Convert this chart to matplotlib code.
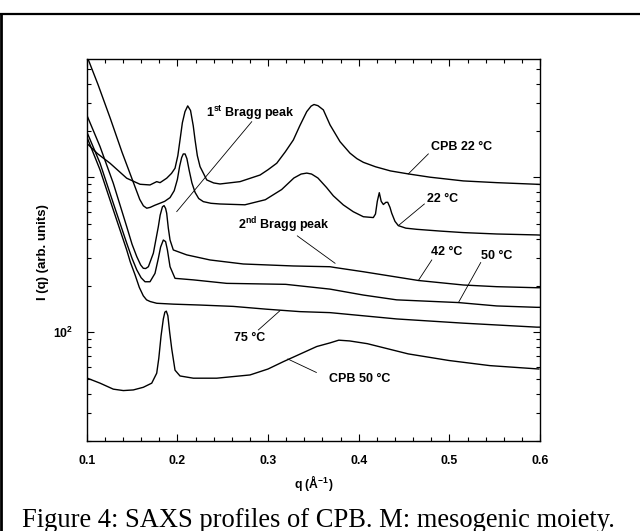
import matplotlib
matplotlib.use('Agg')
import matplotlib.pyplot as plt
from matplotlib.lines import Line2D
from matplotlib.ticker import MultipleLocator, FixedLocator, LogLocator, NullFormatter, FixedFormatter

# ---------------- data (q in 1/Angstrom, I in arb. units) ----------------
q_22 = [0.100, 0.1125, 0.126, 0.139, 0.153, 0.1585, 0.1625, 0.1662, 0.170, 0.175, 0.1809, 0.186,
        0.1919, 0.1965, 0.200, 0.2025, 0.2047, 0.2065, 0.2085, 0.2105, 0.213, 0.216, 0.2195, 0.2235,
        0.2286, 0.237, 0.247, 0.2745, 0.297, 0.315, 0.3285, 0.3365, 0.3427, 0.348, 0.355, 0.3645,
        0.372, 0.383, 0.394, 0.4051, 0.4161, 0.4185, 0.4205, 0.4227, 0.4248, 0.4272, 0.4300, 0.432,
        0.4345, 0.4364, 0.4400, 0.4437, 0.452, 0.464, 0.490, 0.5154, 0.5522, 0.5964, 0.600]
I_22 = [6100, 3960, 2400, 1449, 877, 720, 655, 632, 640, 660, 681, 700,
        740, 820, 969, 1180, 1340, 1415, 1415, 1320, 1110, 922, 800, 730,
        697, 680, 673, 665, 717, 834, 990, 1050, 1065, 1050, 990, 860,
        760, 664, 600, 557, 550, 580, 700, 796, 700, 668, 690, 690,
        640, 587, 520, 488, 470, 462, 450, 440, 431, 425, 424]

q_cpb22 = [0.100, 0.112, 0.1257, 0.1441, 0.1588, 0.1698, 0.1772, 0.1809, 0.1882, 0.1935, 0.1974,
           0.2005, 0.2029, 0.2055, 0.2084, 0.2114, 0.2145, 0.2175, 0.2195, 0.2220, 0.225, 0.2324,
           0.240, 0.247, 0.2691, 0.2912, 0.300, 0.3096, 0.319, 0.3279, 0.335, 0.3427, 0.3475,
           0.3507, 0.355, 0.361, 0.3684, 0.3794, 0.3904, 0.398, 0.4051, 0.4185, 0.435, 0.4547,
           0.4787, 0.5154, 0.5522, 0.5964, 0.600]
I_cpb22 = [1660, 1420, 1233, 987, 902, 893, 938, 924, 987, 1060, 1145,
           1380, 1742, 2250, 2655, 2890, 2700, 2150, 1742, 1380, 1172, 962,
           920, 906, 938, 1035, 1120, 1233, 1460, 1742, 2150, 2655, 2880,
           2950, 2900, 2723, 2178, 1698, 1432, 1320, 1250, 1170, 1100, 1052,
           1002, 948, 924, 902, 900]

q_42 = [0.100, 0.1147, 0.1293, 0.1441, 0.150, 0.1552, 0.1595, 0.1624, 0.165, 0.168, 0.1735, 0.179,
        0.1810, 0.1835, 0.1853, 0.1870, 0.1882, 0.190, 0.1919, 0.1955, 0.2103, 0.236, 0.2727,
        0.3279, 0.3684, 0.3735, 0.4051, 0.4658, 0.5154, 0.5522, 0.5964, 0.600]
I_42 = [2530, 1578, 916, 481, 370, 308, 272, 259, 258, 265, 324, 481,
        570, 645, 657, 630, 587, 470, 394, 340, 316, 293, 276,
        268, 265, 262, 246, 216, 202, 197, 194, 194]

q_50 = [0.100, 0.1147, 0.1293, 0.1441, 0.150, 0.1552, 0.160, 0.1643, 0.1698, 0.1753, 0.1790, 0.1815,
        0.1845, 0.1870, 0.1890, 0.1919, 0.1974, 0.2176, 0.2544, 0.3195, 0.3684, 0.4051, 0.4419,
        0.510, 0.5522, 0.5964, 0.600]
I_50 = [1972, 1233, 681, 376, 300, 253, 225, 212, 212, 240, 300, 355,
        394, 385, 340, 265, 223, 218, 207, 204, 190, 174, 162,
        155.6, 148, 145, 145]

q_75 = [0.100, 0.1147, 0.1293, 0.1441, 0.148, 0.1533, 0.158, 0.1624, 0.166, 0.170, 0.1772, 0.1955,
        0.225, 0.2617, 0.2985, 0.3353, 0.3684, 0.4419, 0.5154, 0.5964, 0.600]
I_75 = [1832, 1117, 617, 340, 285, 235, 195, 172, 162, 158, 154, 152,
        150, 147, 141, 136, 134, 122, 114.6, 108, 108]

q_cpb50 = [0.1007, 0.1147, 0.1293, 0.1404, 0.1514, 0.1624, 0.1717, 0.1772, 0.1795, 0.1820, 0.1845,
           0.1862, 0.1878, 0.1895, 0.1915, 0.1938, 0.1974, 0.2029, 0.2176, 0.2434, 0.2801, 0.300,
           0.3169, 0.3537, 0.3684, 0.378, 0.390, 0.4095, 0.4546, 0.4996, 0.5446, 0.5987]
I_cpb50 = [50.6, 47, 43, 42.1, 42.5, 44.2, 47, 54.5, 68, 95, 122,
           135, 137, 128, 100, 78, 57, 52.3, 50.6, 50.6, 53.1, 58,
           64.7, 81, 85.5, 89, 88, 84.5, 72.6, 65.8, 61, 58]

x_ticks = [0.1, 0.2, 0.3, 0.4, 0.5, 0.6]
x_tick_labels = ['0.1', '0.2', '0.3', '0.4', '0.5', '0.6']
y_major = [100, 1000]
y_major_labels = ['10$^{2}$', '']

# annotation texts and pointer lines (data coords)
labels = ['1$^{st}$ Bragg peak', '2$^{nd}$ Bragg peak', 'CPB 22 °C', '22 °C', '42 °C', '50 °C', '75 °C', 'CPB 50 °C']
label_q = [0.281, 0.3174, 0.5136, 0.4925, 0.4967, 0.5518, 0.2801, 0.4006]
label_I = [2612, 493, 1578, 722, 332, 313, 91.6, 49.8]
ptr_q = [(0.282, 0.1993), (0.3323, 0.3739), (0.4768, 0.4547), (0.4724, 0.4437),
         (0.4806, 0.4658), (0.5346, 0.510), (0.2893, 0.3132), (0.3533, 0.3218)]
ptr_I = [(2285, 601), (419, 279), (1416, 1052), (673, 488),
         (293, 216), (282, 155.6), (103.6, 138), (55.1, 67.3)]

caption = 'Figure 4: SAXS profiles of CPB. M: mesogenic moiety.'

# ---------------- style ----------------
plt.rcParams['font.family'] = ['Liberation Sans', 'DejaVu Sans']
plt.rcParams['font.weight'] = 'bold'
plt.rcParams['mathtext.fontset'] = 'custom'
plt.rcParams['mathtext.rm'] = 'Liberation Sans:bold'
plt.rcParams['mathtext.it'] = 'Liberation Sans:bold'
plt.rcParams['mathtext.bf'] = 'Liberation Sans:bold'

fig = plt.figure(figsize=(6.4, 5.31), dpi=100)
ax = fig.add_axes([0.1355, 0.1701, 0.7083, 0.7188])

lw = 1.0
for q, I in [(q_22, I_22), (q_cpb22, I_cpb22), (q_42, I_42), (q_50, I_50), (q_75, I_75), (q_cpb50, I_cpb50)]:
    ax.plot(q, I, color='black', lw=lw, solid_joinstyle='round')

for t, tq, tI in zip(labels, label_q, label_I):
    ax.text(tq, tI, t, fontsize=9, fontweight='bold', ha='center', va='center')
for pq, pI in zip(ptr_q, ptr_I):
    ax.plot(pq, pI, color='black', lw=0.6)

ax.set_yscale('log')
ax.set_xlim(0.1, 0.6)
ax.set_ylim(20, 5800)

ax.xaxis.set_major_locator(FixedLocator(x_ticks))
ax.xaxis.set_major_formatter(FixedFormatter(x_tick_labels))
ax.xaxis.set_minor_locator(MultipleLocator(0.02))
ax.yaxis.set_major_locator(FixedLocator(y_major))
ax.yaxis.set_major_formatter(FixedFormatter(y_major_labels))
ax.yaxis.set_minor_locator(LogLocator(base=10, subs=[2, 3, 4, 5, 6, 7, 8, 9], numticks=20))
ax.yaxis.set_minor_formatter(NullFormatter())

ax.tick_params(which='both', direction='in', top=True, right=True, labelsize=8.8, width=0.8, pad=10)
ax.tick_params(which='major', length=5)
ax.tick_params(which='minor', length=3)
for s in ax.spines.values():
    s.set_linewidth(1.0)

ax.text(0.5, -0.11, 'q (Å$^{-1}$)', transform=ax.transAxes, ha='center', va='center', fontsize=8.8)
ax.text(-0.0964, 0.494, 'I (q) (arb. units)', transform=ax.transAxes, ha='center', va='center',
        rotation=90, fontsize=9.5)

fig.text(22 / 640, 1 - 527 / 531, caption, family='Liberation Serif', fontweight='normal',
         fontsize=19.1, ha='left', va='baseline')

# page frame lines
fig.add_artist(Line2D([0, 1], [1 - 14.3 / 531, 1 - 14.3 / 531], transform=fig.transFigure, color='black', lw=1.6))
fig.add_artist(Line2D([1.3 / 640, 1.3 / 640], [0, 1 - 14.3 / 531], transform=fig.transFigure, color='black', lw=2.0))

fig.savefig('out.png', dpi=100)
